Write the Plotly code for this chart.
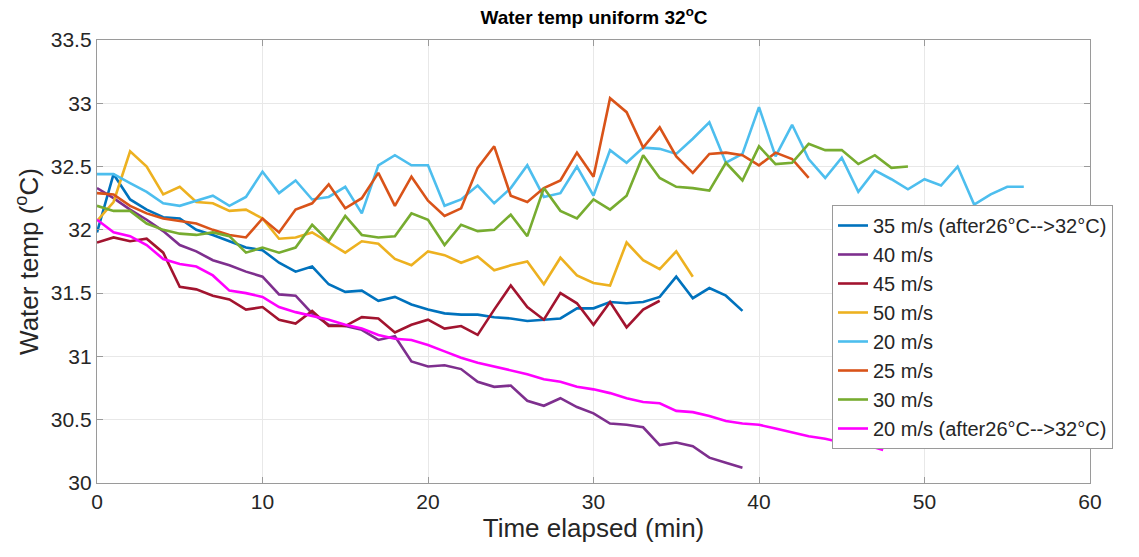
import plotly.graph_objects as go

# Elapsed time (min) for each run
t_35 = list(range(0, 40))
t_40 = list(range(0, 40))
t_45 = list(range(0, 35))
t_50 = list(range(0, 37))
t_20 = list(range(0, 57))
t_25 = list(range(0, 44))
t_30 = list(range(0, 50))
t_20b = list(range(0, 48)) + [47.5]

# Water temperature (°C)
temp_35 = [31.98, 32.44, 32.24, 32.16, 32.10, 32.09, 32.00, 31.96, 31.91, 31.86,
           31.84, 31.74, 31.67, 31.71, 31.57, 31.51, 31.52, 31.44, 31.47, 31.41,
           31.37, 31.34, 31.33, 31.33, 31.31, 31.30, 31.28, 31.29, 31.30, 31.38,
           31.38, 31.43, 31.42, 31.43, 31.47, 31.63, 31.46, 31.54, 31.48, 31.36]
temp_40 = [32.33, 32.25, 32.16, 32.08, 31.99, 31.88, 31.83, 31.76, 31.72, 31.67,
           31.63, 31.49, 31.48, 31.34, 31.25, 31.24, 31.21, 31.13, 31.16, 30.96,
           30.92, 30.93, 30.90, 30.80, 30.76, 30.77, 30.65, 30.61, 30.67, 30.60,
           30.55, 30.47, 30.46, 30.44, 30.30, 30.32, 30.29, 30.20, 30.16, 30.12]
temp_45 = [31.90, 31.94, 31.91, 31.93, 31.82, 31.55, 31.53, 31.48, 31.45, 31.37,
           31.39, 31.29, 31.26, 31.36, 31.24, 31.24, 31.31, 31.30, 31.19, 31.25,
           31.29, 31.22, 31.24, 31.17, 31.37, 31.56, 31.39, 31.29, 31.50, 31.42,
           31.25, 31.43, 31.23, 31.37, 31.44]
temp_50 = [32.07, 32.22, 32.62, 32.50, 32.28, 32.34, 32.22, 32.21, 32.15, 32.16,
           32.09, 31.93, 31.94, 31.98, 31.90, 31.82, 31.91, 31.89, 31.77, 31.72,
           31.83, 31.80, 31.74, 31.79, 31.68, 31.72, 31.75, 31.57, 31.78, 31.64,
           31.58, 31.56, 31.90, 31.76, 31.69, 31.83, 31.63]
temp_20 = [32.44, 32.44, 32.37, 32.30, 32.21, 32.19, 32.23, 32.27, 32.19, 32.26,
           32.46, 32.29, 32.39, 32.24, 32.26, 32.34, 32.13, 32.51, 32.59, 32.51,
           32.51, 32.19, 32.24, 32.35, 32.21, 32.33, 32.51, 32.26, 32.29, 32.50,
           32.27, 32.63, 32.53, 32.65, 32.64, 32.60, 32.72, 32.85, 32.53, 32.60,
           32.97, 32.58, 32.83, 32.56, 32.41, 32.57, 32.30, 32.47, 32.40, 32.32,
           32.40, 32.35, 32.50, 32.20, 32.28, 32.34, 32.34]
temp_25 = [32.29, 32.28, 32.19, 32.13, 32.09, 32.07, 32.05, 32.00, 31.96, 31.94,
           32.09, 31.98, 32.16, 32.21, 32.36, 32.17, 32.25, 32.45, 32.19, 32.42,
           32.23, 32.11, 32.17, 32.49, 32.66, 32.27, 32.22, 32.33, 32.39, 32.61,
           32.42, 33.04, 32.93, 32.65, 32.81, 32.58, 32.45, 32.60, 32.61, 32.59,
           32.51, 32.61, 32.56, 32.41]
temp_30 = [32.19, 32.15, 32.15, 32.05, 32.00, 31.97, 31.96, 31.98, 31.95, 31.82,
           31.86, 31.82, 31.86, 32.04, 31.91, 32.11, 31.96, 31.94, 31.95, 32.13,
           32.08, 31.88, 32.04, 31.99, 32.00, 32.12, 31.95, 32.33, 32.15, 32.09,
           32.24, 32.16, 32.27, 32.59, 32.41, 32.34, 32.33, 32.31, 32.53, 32.39,
           32.66, 32.52, 32.53, 32.68, 32.63, 32.63, 32.52, 32.59, 32.49, 32.50]
temp_20b = [32.08, 31.98, 31.95, 31.88, 31.77, 31.73, 31.71, 31.64, 31.52, 31.50,
            31.47, 31.39, 31.35, 31.32, 31.29, 31.25, 31.22, 31.17, 31.14, 31.13,
            31.09, 31.04, 30.99, 30.95, 30.92, 30.89, 30.86, 30.82, 30.80, 30.76,
            30.74, 30.71, 30.67, 30.64, 30.63, 30.57, 30.56, 30.53, 30.49, 30.47,
            30.46, 30.43, 30.40, 30.37, 30.35, 30.32, 30.30, 30.28, 30.26]

labels = ["35 m/s (after26°C-->32°C)", "40 m/s", "45 m/s", "50 m/s",
          "20 m/s", "25 m/s", "30 m/s", "20 m/s (after26°C-->32°C)"]
colors = ["#0072BD", "#7E2F8E", "#A2142F", "#EDB120",
          "#4DBEEE", "#D95319", "#77AC30", "#FF00FF"]
times = [t_35, t_40, t_45, t_50, t_20, t_25, t_30, t_20b]
temps = [temp_35, temp_40, temp_45, temp_50, temp_20, temp_25, temp_30, temp_20b]

FONT = "Liberation Sans, Arial, sans-serif"
TXT = "#262626"

fig = go.Figure()
for name, c, x, y in zip(labels, colors, times, temps):
    fig.add_trace(go.Scatter(x=x, y=y, mode="lines", name=name,
                             line=dict(color=c, width=2.6)))

axis_common = dict(
    showline=True, linecolor="#9a9a9a", linewidth=1.3, mirror="ticks",
    ticks="inside", ticklen=6, tickcolor="#9a9a9a", tickwidth=1.3,
    showgrid=True, gridcolor="#e8e8e8", gridwidth=1, zeroline=False,
    tickfont=dict(family=FONT, size=21, color=TXT),
)

fig.update_layout(
    width=1139, height=557,
    margin=dict(l=97, r=49, t=40, b=74),
    paper_bgcolor="white", plot_bgcolor="white",
    title=dict(text="<b>Water temp uniform 32<sup>o</sup>C</b>",
               x=0.5215, xanchor="center", y=0.98, yanchor="top",
               font=dict(family=FONT, size=19, color="black")),
    xaxis=dict(range=[0, 60], tickvals=[0, 10, 20, 30, 40, 50, 60],
               title=dict(text="Time elapsed (min)", standoff=6,
                          font=dict(family=FONT, size=26, color=TXT)),
               **axis_common),
    yaxis=dict(range=[30, 33.5], tickvals=[30, 30.5, 31, 31.5, 32, 32.5, 33, 33.5],
               ticktext=["30", "30.5", "31", "31.5", "32", "32.5", "33", "33.5"],
               title=dict(text="Water temp (<sup>o</sup>C)", standoff=4,
                          font=dict(family=FONT, size=26, color=TXT)),
               **axis_common),
    legend=dict(x=(832 - 97) / (1090 - 97), y=(483 - 205) / (483 - 40),
                xanchor="left", yanchor="top",
                bgcolor="white", bordercolor="#9a9a9a", borderwidth=1,
                font=dict(family=FONT, size=20, color=TXT),
                tracegroupgap=0, itemwidth=30),
)

fig.write_html("out.html")
